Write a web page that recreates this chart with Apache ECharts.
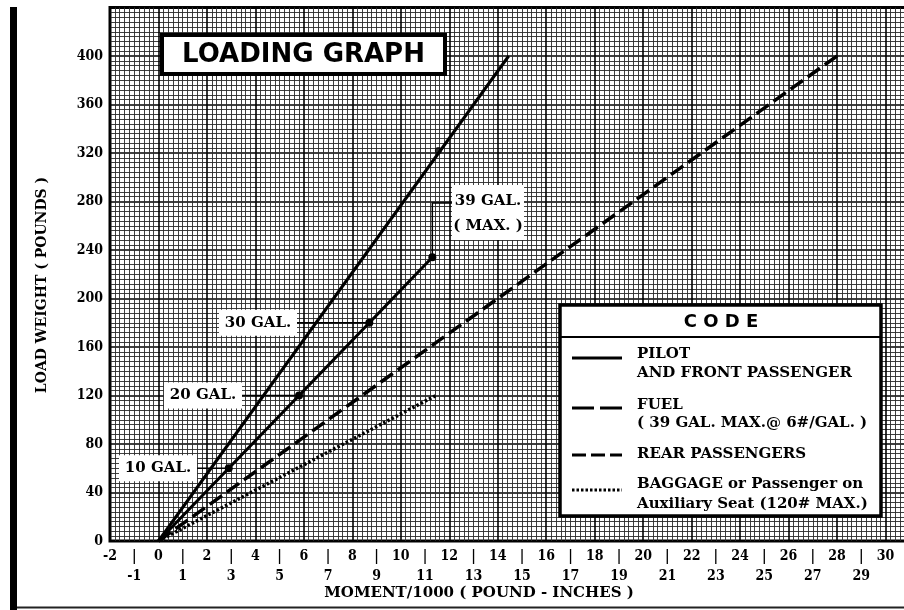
<!DOCTYPE html>
<html><head><meta charset="utf-8">
<script src="https://cdn.jsdelivr.net/npm/echarts@6/dist/echarts.min.js"></script>
<style>html,body{margin:0;padding:0;background:#fff}#c{width:904px;height:610px}</style>
</head><body><div id="c"></div>
<script>
// ---- data ----
const xTopLabels = ['-2','0','2','4','6','8','10','12','14','16','18','20','22','24','26','28','30'];
const xBottomLabels = ['-1','1','3','5','7','9','11','13','15','17','19','21','23','25','27','29'];
const yLabels = ['0','40','80','120','160','200','240','280','320','360','400'];

const pilot = [[0,0],[14.45,400]];
const pilotMark = [[11.55,322]];
const fuel = [[0,0],[2.9,60],[5.8,120],[8.7,180],[11.3,234]];
const fuelLabels = ['', '10 GAL.', '20 GAL.', '30 GAL.', '39 GAL.'];
const rear = [[0,0],[28.0,400]];
const baggage = [[0,0],[11.45,120]];

const legendItems = [
  ['PILOT','AND FRONT PASSENGER'],
  ['FUEL','( 39 GAL. MAX.@ 6#/GAL. )'],
  ['REAR PASSENGERS'],
  ['BAGGAGE or Passenger on','Auxiliary Seat (120# MAX.)']
];

const SERIF = '"DejaVu Serif"';
const NUMF = '"DejaVu Serif Condensed"';
const chart = echarts.init(document.getElementById('c'), null, {renderer:'canvas'});

const minorLine = {show:true, lineStyle:{color:'#2a2a2a', width:0.9}};
const majorLine = {show:true, lineStyle:{color:'#000', width:1.6}};

const option = {
  animation:false,
  backgroundColor:'#fff',
  grid:{left:110, right:-30, top:7.5, bottom:69, show:true, borderColor:'#000', borderWidth:3,
        backgroundColor:'#fff', containLabel:false, outerBoundsMode:'none'},
  xAxis:[
    {type:'value', min:-2, max:32, interval:2, position:'bottom',
     axisLine:{show:false}, axisTick:{show:false},
     splitLine:majorLine,
     minorTick:{show:false, splitNumber:10}, minorSplitLine:minorLine,
     axisLabel:{show:true, margin:5, color:'#000', fontFamily:NUMF, fontWeight:'bold', fontSize:14, lineHeight:20,
       formatter:v=>{const i=Math.round((v+2)/2); return xTopLabels[i]!==undefined?xTopLabels[i]:'';}}},
    {type:'value', min:-2, max:32, interval:1, position:'bottom',
     axisLine:{show:false}, axisTick:{show:false}, splitLine:{show:false},
     axisLabel:{show:true, margin:5, color:'#000', fontFamily:NUMF, fontWeight:'bold', fontSize:14, lineHeight:20,
       formatter:v=>{const r=Math.round(v); if(Math.abs(r%2)!==1) return ''; const i=(r+1)/2; return xBottomLabels[i]!==undefined?('|\n'+xBottomLabels[i]):'';}}}
  ],
  yAxis:{type:'value', min:0, max:440, interval:40,
     axisLine:{show:false}, axisTick:{show:false},
     splitLine:majorLine,
     minorTick:{show:false, splitNumber:10}, minorSplitLine:minorLine,
     axisLabel:{show:true, margin:7, color:'#000', fontFamily:NUMF, fontWeight:'bold', fontSize:14,
       formatter:v=>{const i=Math.round(v/40); return (Math.abs(v-i*40)<1e-6 && yLabels[i]!==undefined)?yLabels[i]:'';}}},
  series:[
    {name:'PILOT AND FRONT PASSENGER', type:'line', data:pilot, showSymbol:false, symbol:'none',
     lineStyle:{color:'#000', width:3}, z:5},
    {name:'pilot mark', type:'scatter', data:pilotMark, symbol:'circle', symbolSize:7,
     itemStyle:{color:'#000'}, z:6},
    {name:'FUEL', type:'line', data:fuel.map((p,i)=>({value:p, symbol:i===0?'none':'circle'})),
     symbol:'circle', symbolSize:8, showSymbol:true,
     itemStyle:{color:'#000'}, lineStyle:{color:'#000', width:3}, z:5},
    {name:'REAR PASSENGERS', type:'line', data:rear, showSymbol:false, symbol:'none',
     lineStyle:{color:'#000', width:3.5, type:[15,6]}, z:5},
    {name:'BAGGAGE', type:'line', data:baggage, showSymbol:false, symbol:'none',
     lineStyle:{color:'#000', width:3.5, type:[2.5,2.2]}, z:5}
  ]
};
chart.setOption(option);

function txt(text, x, y, font, align, extra){
  return Object.assign({type:'text', z:120, style:{text:text, x:x, y:y, font:font, fill:'#000',
    align:align||'left', textAlign:align||'left', verticalAlign:'middle', textVerticalAlign:'middle'}}, extra||{});
}

const P = pt => chart.convertToPixel({xAxisIndex:0, yAxisIndex:0}, pt);
const g = [];
// page frame
g.push({type:'rect', z:110, shape:{x:10, y:7, width:7, height:603}, style:{fill:'#000'}});
g.push({type:'line', z:110, shape:{x1:17, y1:607.5, x2:904, y2:607.5}, style:{stroke:'#222', lineWidth:2}});

// title box
g.push({type:'rect', z:115, shape:{x:162, y:35, width:283, height:39}, style:{fill:'#fff', stroke:'#000', lineWidth:4}});
g.push(txt('LOADING GRAPH', 303.5, 55, 'bold 26px "DejaVu Sans"', 'center'));

// gallon annotations
const boxRight = [0, 197, 242, 297];
for (let i=1;i<=3;i++){
  const m = P(fuel[i]);
  const r = boxRight[i], w = 78;
  g.push({type:'line', z:115, shape:{x1:r, y1:m[1], x2:m[0], y2:m[1]}, style:{stroke:'#000', lineWidth:1.5}});
  g.push({type:'rect', z:116, shape:{x:r-w, y:m[1]-13, width:w, height:26}, style:{fill:'#fff'}});
  g.push(txt(fuelLabels[i], r-w/2, m[1], 'bold 15px '+SERIF, 'center'));
}
{
  const m = P(fuel[4]);
  g.push({type:'polyline', z:115, shape:{points:[[452,203],[m[0],203],[m[0],m[1]]]}, style:{stroke:'#000', lineWidth:1.5, fill:null}});
  g.push({type:'rect', z:116, shape:{x:452, y:185, width:72, height:55}, style:{fill:'#fff'}});
  g.push(txt(fuelLabels[4], 488, 201, 'bold 15px '+SERIF, 'center'));
  g.push(txt('( MAX. )', 488, 226, 'bold 15px '+SERIF, 'center'));
}

// legend box
g.push({type:'rect', z:115, shape:{x:560, y:305, width:321, height:211}, style:{fill:'#fff', stroke:'#000', lineWidth:3.5}});
g.push({type:'line', z:116, shape:{x1:560, y1:337, x2:881, y2:337}, style:{stroke:'#000', lineWidth:2}});
g.push(txt('C O D E', 721, 322, 'bold 18px "DejaVu Sans"', 'center'));
const sampleY = [358, 408, 455, 490];
const sampleDash = [null, [22,6], [14,5], [2.5,2]];
const textY = [[354,373],[405,423],[454],[484,504]];
for (let i=0;i<4;i++){
  g.push({type:'line', z:117, shape:{x1:572, y1:sampleY[i], x2:622, y2:sampleY[i]},
    style:{stroke:'#000', lineWidth:3, lineDash:sampleDash[i]||null}});
  legendItems[i].forEach((t,j)=>g.push(txt(t, 637, textY[i][j], 'bold 15px '+SERIF, 'left')));
}

// axis names
g.push(txt('MOMENT/1000 ( POUND - INCHES )', 479, 593, 'bold 15px '+SERIF, 'center'));
g.push(txt('LOAD WEIGHT ( POUNDS )', 0, 0, 'bold 14px '+SERIF, 'center', {x:42, y:285, rotation:Math.PI/2}));

chart.setOption({graphic:{elements:g}});
</script></body></html>
